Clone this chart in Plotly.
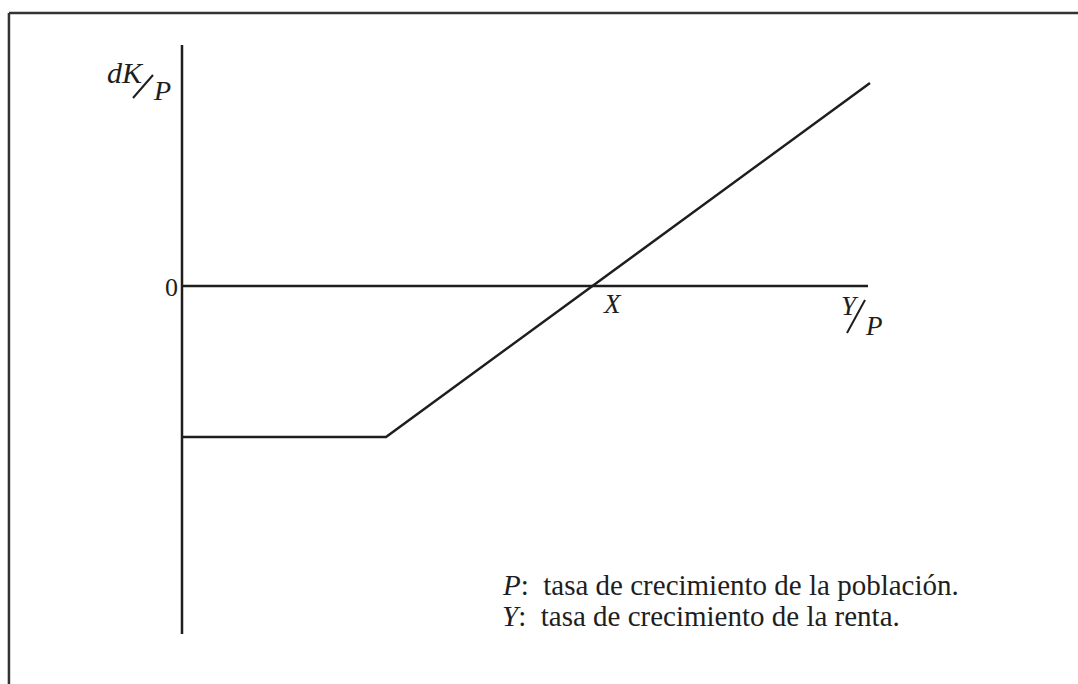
import plotly.graph_objects as go

# investment line dK/P against Y/P (arbitrary units, 1 unit ~ 100 px)
curve_x = [0, 2.04, 6.88]
curve_y = [-1.51, -1.51, 2.03]

# axes extents
yaxis_x = [0, 0]
yaxis_y = [-3.48, 2.41]
xaxis_x = [0, 6.86]
xaxis_y = [0, 0]

notes = ["<i>P</i>:  tasa de crecimiento de la población.",
         "<i>Y</i>:  tasa de crecimiento de la renta."]

ink = "#1e1e1e"
serif = "Liberation Serif, Times New Roman, serif"

fig = go.Figure()
fig.add_trace(go.Scatter(x=yaxis_x, y=yaxis_y, mode="lines",
                         line=dict(color=ink, width=2.5), hoverinfo="skip"))
fig.add_trace(go.Scatter(x=xaxis_x, y=xaxis_y, mode="lines",
                         line=dict(color=ink, width=2.5), hoverinfo="skip"))
fig.add_trace(go.Scatter(x=curve_x, y=curve_y, mode="lines",
                         line=dict(color=ink, width=2.5), hoverinfo="skip"))

def label(x, y, text, size, anchor="center"):
    fig.add_annotation(x=x, y=y, xref="x", yref="y", text=text, showarrow=False,
                       xanchor=anchor, yanchor="middle",
                       font=dict(family=serif, size=size, color=ink))

# axis labels
label(-0.57, 2.14, "<i>dK</i>", 30)
label(-0.20, 1.96, "<i>P</i>", 28)
label(-0.11, -0.01, "0", 26)
label(4.30, -0.18, "<i>X</i>", 27)
label(6.68, -0.20, "<i>Y</i>", 27)
label(6.92, -0.40, "<i>P</i>", 27)

# slanted fraction bars
fig.add_shape(type="line", x0=-0.49, y0=1.88, x1=-0.29, y1=2.11,
              line=dict(color=ink, width=2))
fig.add_shape(type="line", x0=6.65, y0=-0.47, x1=6.83, y1=-0.14,
              line=dict(color=ink, width=2))

# footnotes
label(3.18, -2.99, notes[0], 29, anchor="left")
label(3.18, -3.30, notes[1], 29, anchor="left")

# scan frame (top and left edges)
fig.add_shape(type="line", xref="paper", yref="paper", x0=0.0083, y0=0.981, x1=1, y1=0.981,
              line=dict(color="#333", width=2.5))
fig.add_shape(type="line", xref="paper", yref="paper", x0=0.0083, y0=0, x1=0.0083, y1=0.981,
              line=dict(color="#333", width=2.5))

fig.update_layout(width=1078, height=684, showlegend=False,
                  margin=dict(l=0, r=0, t=0, b=0),
                  paper_bgcolor="white", plot_bgcolor="white")
fig.update_xaxes(range=[-1.82, 8.96], visible=False)
fig.update_yaxes(range=[-3.98, 2.86], visible=False)

# drop the default 8px body margin so the figure sits at the window origin
fig.write_html("out.html", config={"displayModeBar": False},
               post_script="document.body.style.margin='0';")
